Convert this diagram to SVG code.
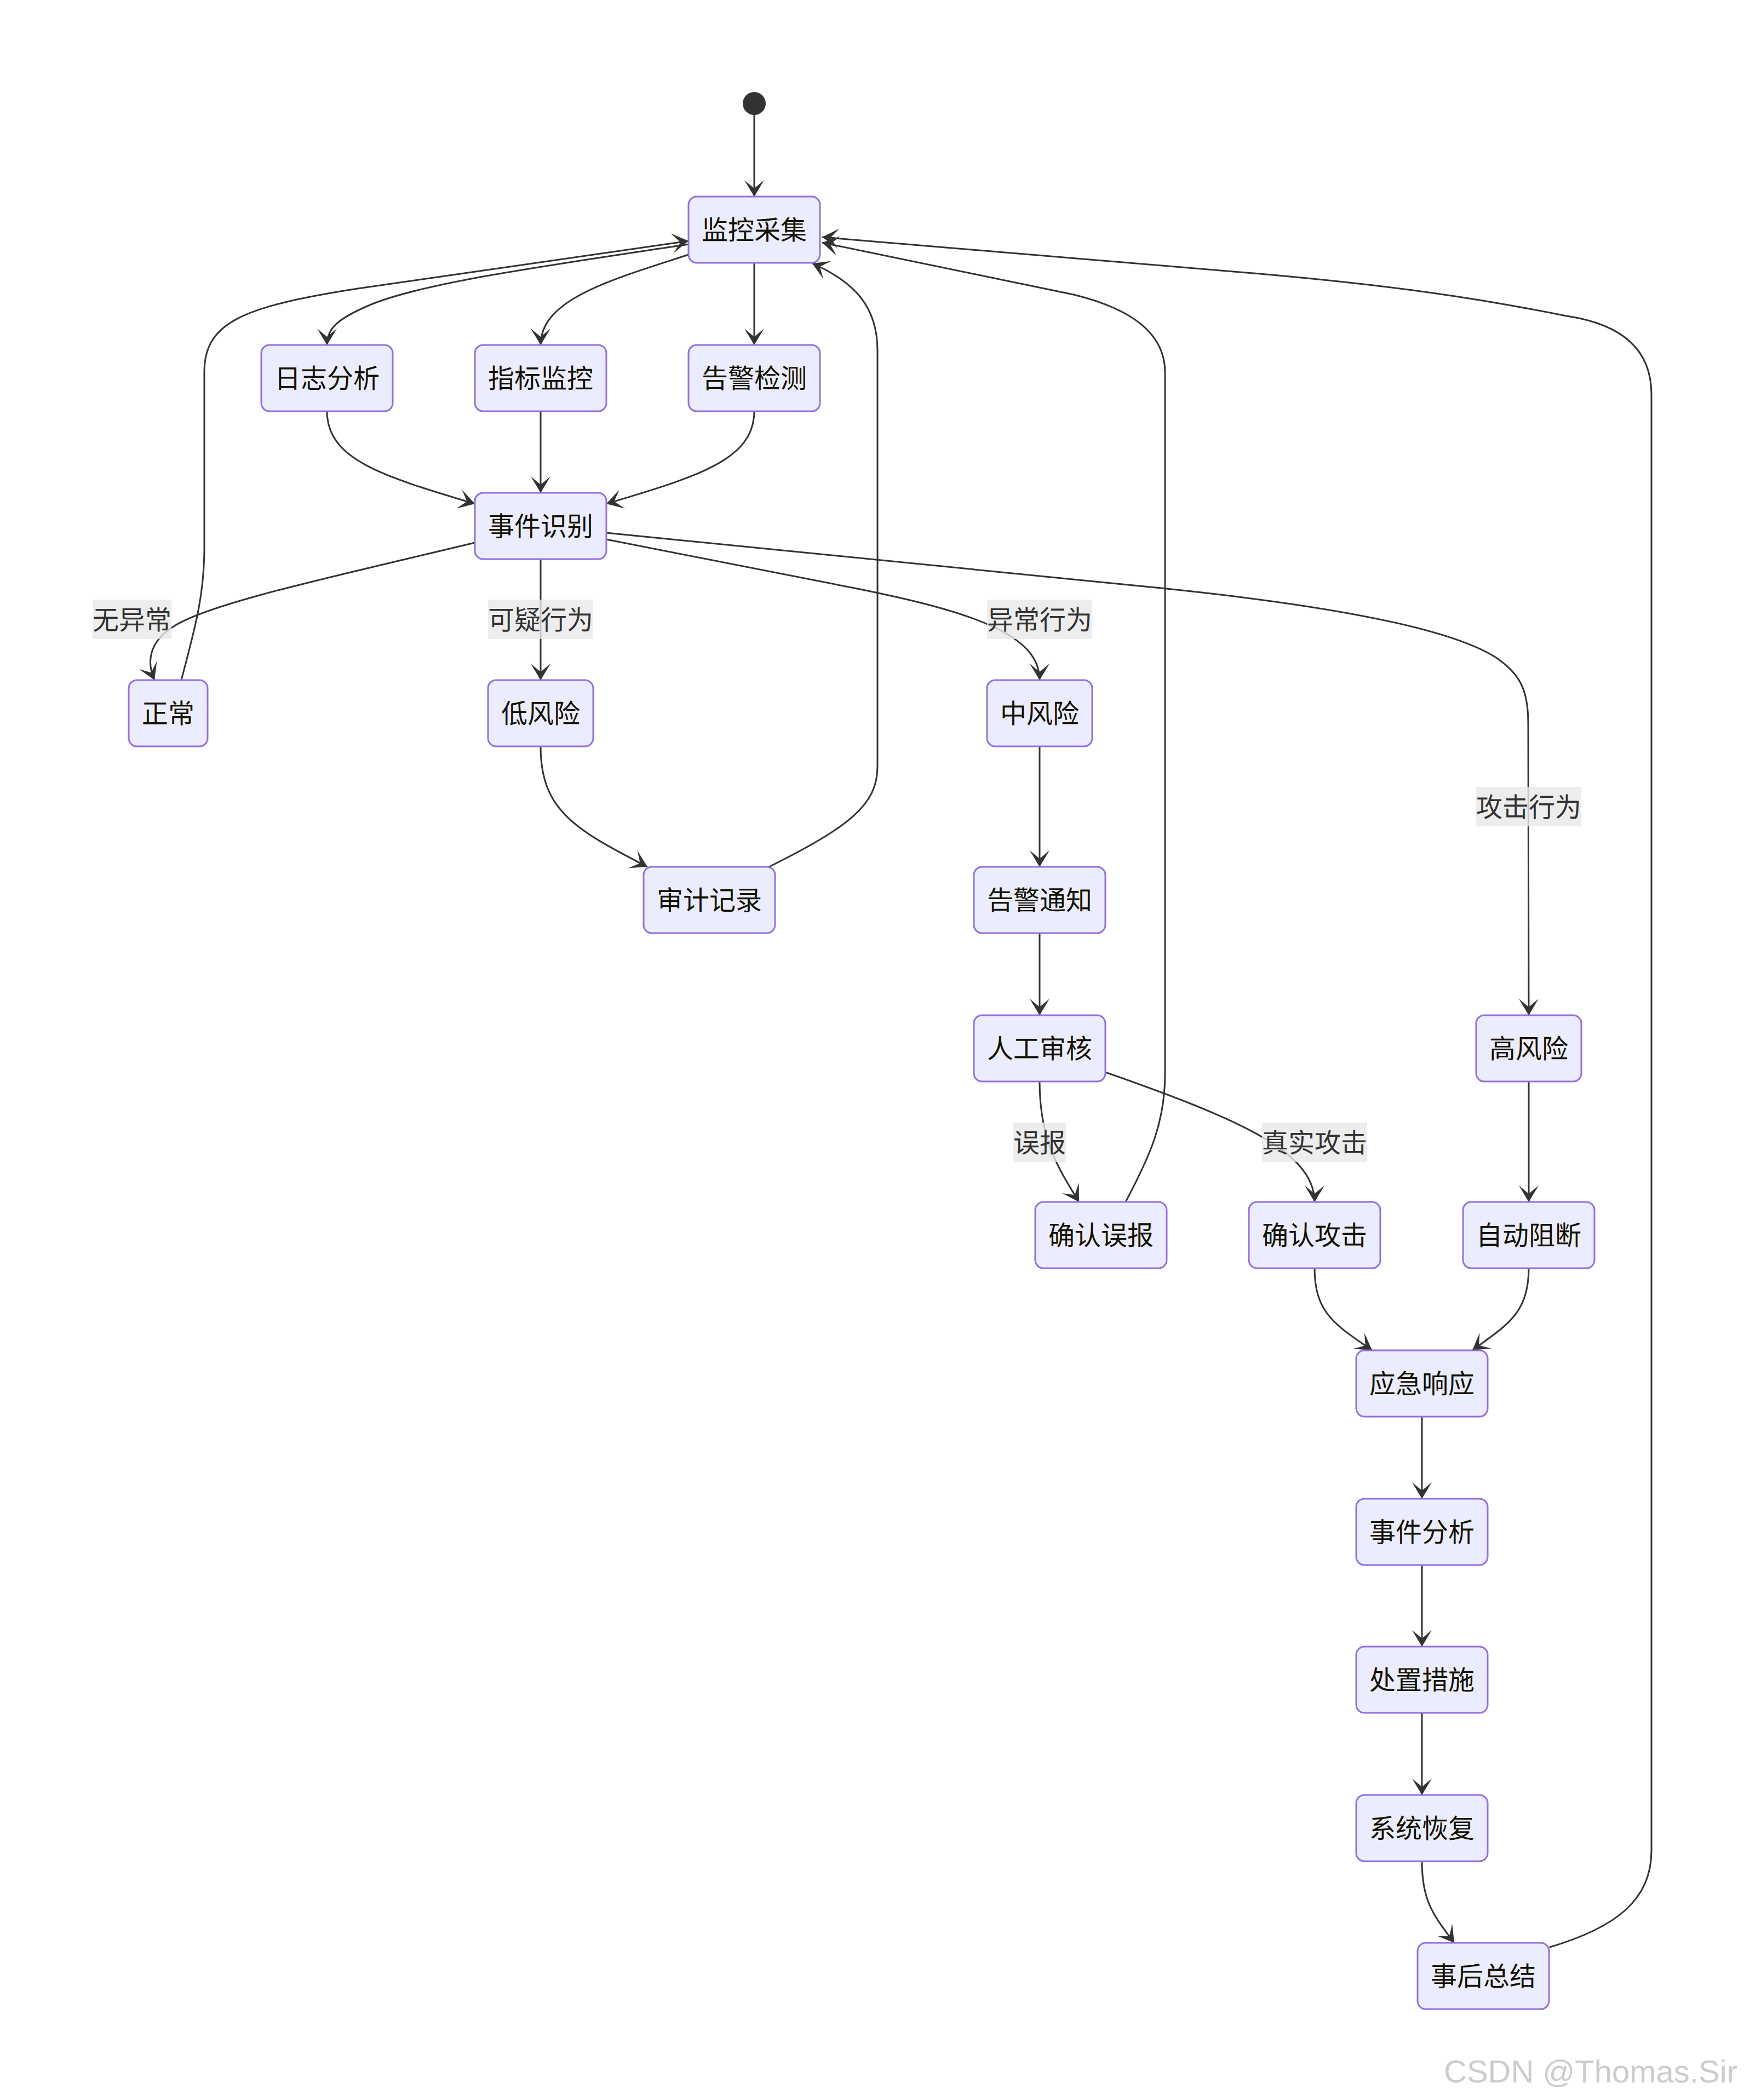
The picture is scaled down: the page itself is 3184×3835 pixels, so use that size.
<svg xmlns="http://www.w3.org/2000/svg" width="3184" height="3835" viewBox="0 0 3184 3835">
<style>
.node rect{fill:#ECECFF;stroke:#9370DB;stroke-width:3}
.node text{font-family:"Noto Sans CJK SC","Noto Sans",sans-serif;font-size:48px;fill:#131300;text-anchor:middle}
.edge{fill:none;stroke:#333333;stroke-width:3;marker-end:url(#barb)}
.lbl rect{fill:#e8e8e8;fill-opacity:0.8}
.lbl text{font-family:"Noto Sans CJK SC","Noto Sans",sans-serif;font-size:48px;fill:#333333;text-anchor:middle}
.wm{font-family:"Liberation Sans",Arial,sans-serif;font-size:58px;fill:#cccccc}
</style>
<defs>
<marker id="barb" markerUnits="userSpaceOnUse" viewBox="9 1 10 12" refX="19" refY="7" markerWidth="30" markerHeight="36" orient="auto">
<path d="M19,7 L9,13 L14,7 L9,1 Z" fill="#333333"/>
</marker>
</defs>
<rect x="0" y="0" width="3184" height="3835" fill="#ffffff"/>
<g id="edges">
<path class="edge" d="M1377,210 L1377,359"/>
<path class="edge" d="M1257,446 C1000,485 780,515 680,555 C615,582 597,600 597,630"/>
<path class="edge" d="M1257,465 C1120,510 987,545 987,630"/>
<path class="edge" d="M1377,480 L1377,630"/>
<path class="edge" d="M597,751 C597,840 700,870 867,920"/>
<path class="edge" d="M987,751 L987,900"/>
<path class="edge" d="M1377,751 C1377,840 1274,870 1107,920"/>
<path class="edge" d="M867,991 C600,1055 390,1100 320,1142 C270,1172 268,1210 282,1242"/>
<path class="edge" d="M987,1021 L987,1242"/>
<path class="edge" d="M1107,985 L1560,1074 C1780,1118 1898,1160 1898,1242"/>
<path class="edge" d="M1107,973 L2100,1072 C2450,1107 2650,1150 2730,1200 C2775,1230 2790,1260 2790,1320 L2791,1854"/>
<path class="edge" d="M331,1242 C355,1150 373,1090 373,1000 L373,680 C373,590 440,560 653,527 C850,497 1050,470 1257,440"/>
<path class="edge" d="M987,1363 C987,1480 1050,1515 1182,1583"/>
<path class="edge" d="M1404,1583 C1550,1510 1602,1470 1602,1400 L1602,640 C1602,560 1560,515 1483,481"/>
<path class="edge" d="M1898,1363 L1898,1583"/>
<path class="edge" d="M1898,1704 L1898,1854"/>
<path class="edge" d="M1898,1975 C1898,2080 1930,2130 1970,2195"/>
<path class="edge" d="M2018,1958 C2250,2040 2400,2100 2400,2195"/>
<path class="edge" d="M2791,1975 L2791,2195"/>
<path class="edge" d="M2055,2195 C2100,2110 2127,2050 2127,1960 L2127,680 C2127,600 2050,560 1960,538 L1501,443"/>
<path class="edge" d="M2400,2316 C2400,2400 2440,2420 2505,2466"/>
<path class="edge" d="M2791,2316 C2791,2400 2750,2420 2688,2466"/>
<path class="edge" d="M2596,2587 L2596,2737"/>
<path class="edge" d="M2596,2858 L2596,3007"/>
<path class="edge" d="M2596,3128 L2596,3278"/>
<path class="edge" d="M2596,3399 C2596,3470 2615,3495 2655,3548"/>
<path class="edge" d="M2829,3556 C2950,3520 3015,3470 3015,3380 L3015,720 Q3015,600 2860,577 C2700,545 2550,522 2300,500 L1501,433"/>
</g>
<g id="edge-labels">
<g class="lbl"><rect x="169" y="1095" width="144" height="72"/><text x="241" y="1149">无异常</text></g>
<g class="lbl"><rect x="891" y="1095" width="192" height="72"/><text x="987" y="1149">可疑行为</text></g>
<g class="lbl"><rect x="1802" y="1095" width="192" height="72"/><text x="1898" y="1149">异常行为</text></g>
<g class="lbl"><rect x="2695" y="1437" width="192" height="72"/><text x="2791" y="1491">攻击行为</text></g>
<g class="lbl"><rect x="1850" y="2050" width="96" height="72"/><text x="1898" y="2104">误报</text></g>
<g class="lbl"><rect x="2304" y="2050" width="192" height="72"/><text x="2400" y="2104">真实攻击</text></g>
</g>
<g id="start"><circle cx="1377" cy="189" r="21" fill="#333333"/></g>
<g id="n_jkcj" class="node"><rect x="1257" y="359" width="240" height="121" rx="15"/><text x="1377" y="437">监控采集</text></g>
<g id="n_rzfx" class="node"><rect x="477" y="630" width="240" height="121" rx="15"/><text x="597" y="708">日志分析</text></g>
<g id="n_zbjk" class="node"><rect x="867" y="630" width="240" height="121" rx="15"/><text x="987" y="708">指标监控</text></g>
<g id="n_gjjc" class="node"><rect x="1257" y="630" width="240" height="121" rx="15"/><text x="1377" y="708">告警检测</text></g>
<g id="n_sjsb" class="node"><rect x="867" y="900" width="240" height="121" rx="15"/><text x="987" y="978">事件识别</text></g>
<g id="n_zc" class="node"><rect x="235" y="1242" width="144" height="121" rx="15"/><text x="307" y="1320">正常</text></g>
<g id="n_dfx" class="node"><rect x="891" y="1242" width="192" height="121" rx="15"/><text x="987" y="1320">低风险</text></g>
<g id="n_zfx" class="node"><rect x="1802" y="1242" width="192" height="121" rx="15"/><text x="1898" y="1320">中风险</text></g>
<g id="n_sjjl" class="node"><rect x="1175" y="1583" width="240" height="121" rx="15"/><text x="1295" y="1661">审计记录</text></g>
<g id="n_gjtz" class="node"><rect x="1778" y="1583" width="240" height="121" rx="15"/><text x="1898" y="1661">告警通知</text></g>
<g id="n_rgsh" class="node"><rect x="1778" y="1854" width="240" height="121" rx="15"/><text x="1898" y="1932">人工审核</text></g>
<g id="n_gfx" class="node"><rect x="2695" y="1854" width="192" height="121" rx="15"/><text x="2791" y="1932">高风险</text></g>
<g id="n_qrwb" class="node"><rect x="1890" y="2195" width="240" height="121" rx="15"/><text x="2010" y="2273">确认误报</text></g>
<g id="n_qrgj" class="node"><rect x="2280" y="2195" width="240" height="121" rx="15"/><text x="2400" y="2273">确认攻击</text></g>
<g id="n_zdzd" class="node"><rect x="2671" y="2195" width="240" height="121" rx="15"/><text x="2791" y="2273">自动阻断</text></g>
<g id="n_yjxy" class="node"><rect x="2476" y="2466" width="240" height="121" rx="15"/><text x="2596" y="2544">应急响应</text></g>
<g id="n_sjfx" class="node"><rect x="2476" y="2737" width="240" height="121" rx="15"/><text x="2596" y="2815">事件分析</text></g>
<g id="n_czcs" class="node"><rect x="2476" y="3007" width="240" height="121" rx="15"/><text x="2596" y="3085">处置措施</text></g>
<g id="n_xthf" class="node"><rect x="2476" y="3278" width="240" height="121" rx="15"/><text x="2596" y="3356">系统恢复</text></g>
<g id="n_shzj" class="node"><rect x="2588" y="3548" width="240" height="121" rx="15"/><text x="2708" y="3626">事后总结</text></g>
<text class="wm" x="2636" y="3803">CSDN @Thomas.Sir</text>
</svg>
